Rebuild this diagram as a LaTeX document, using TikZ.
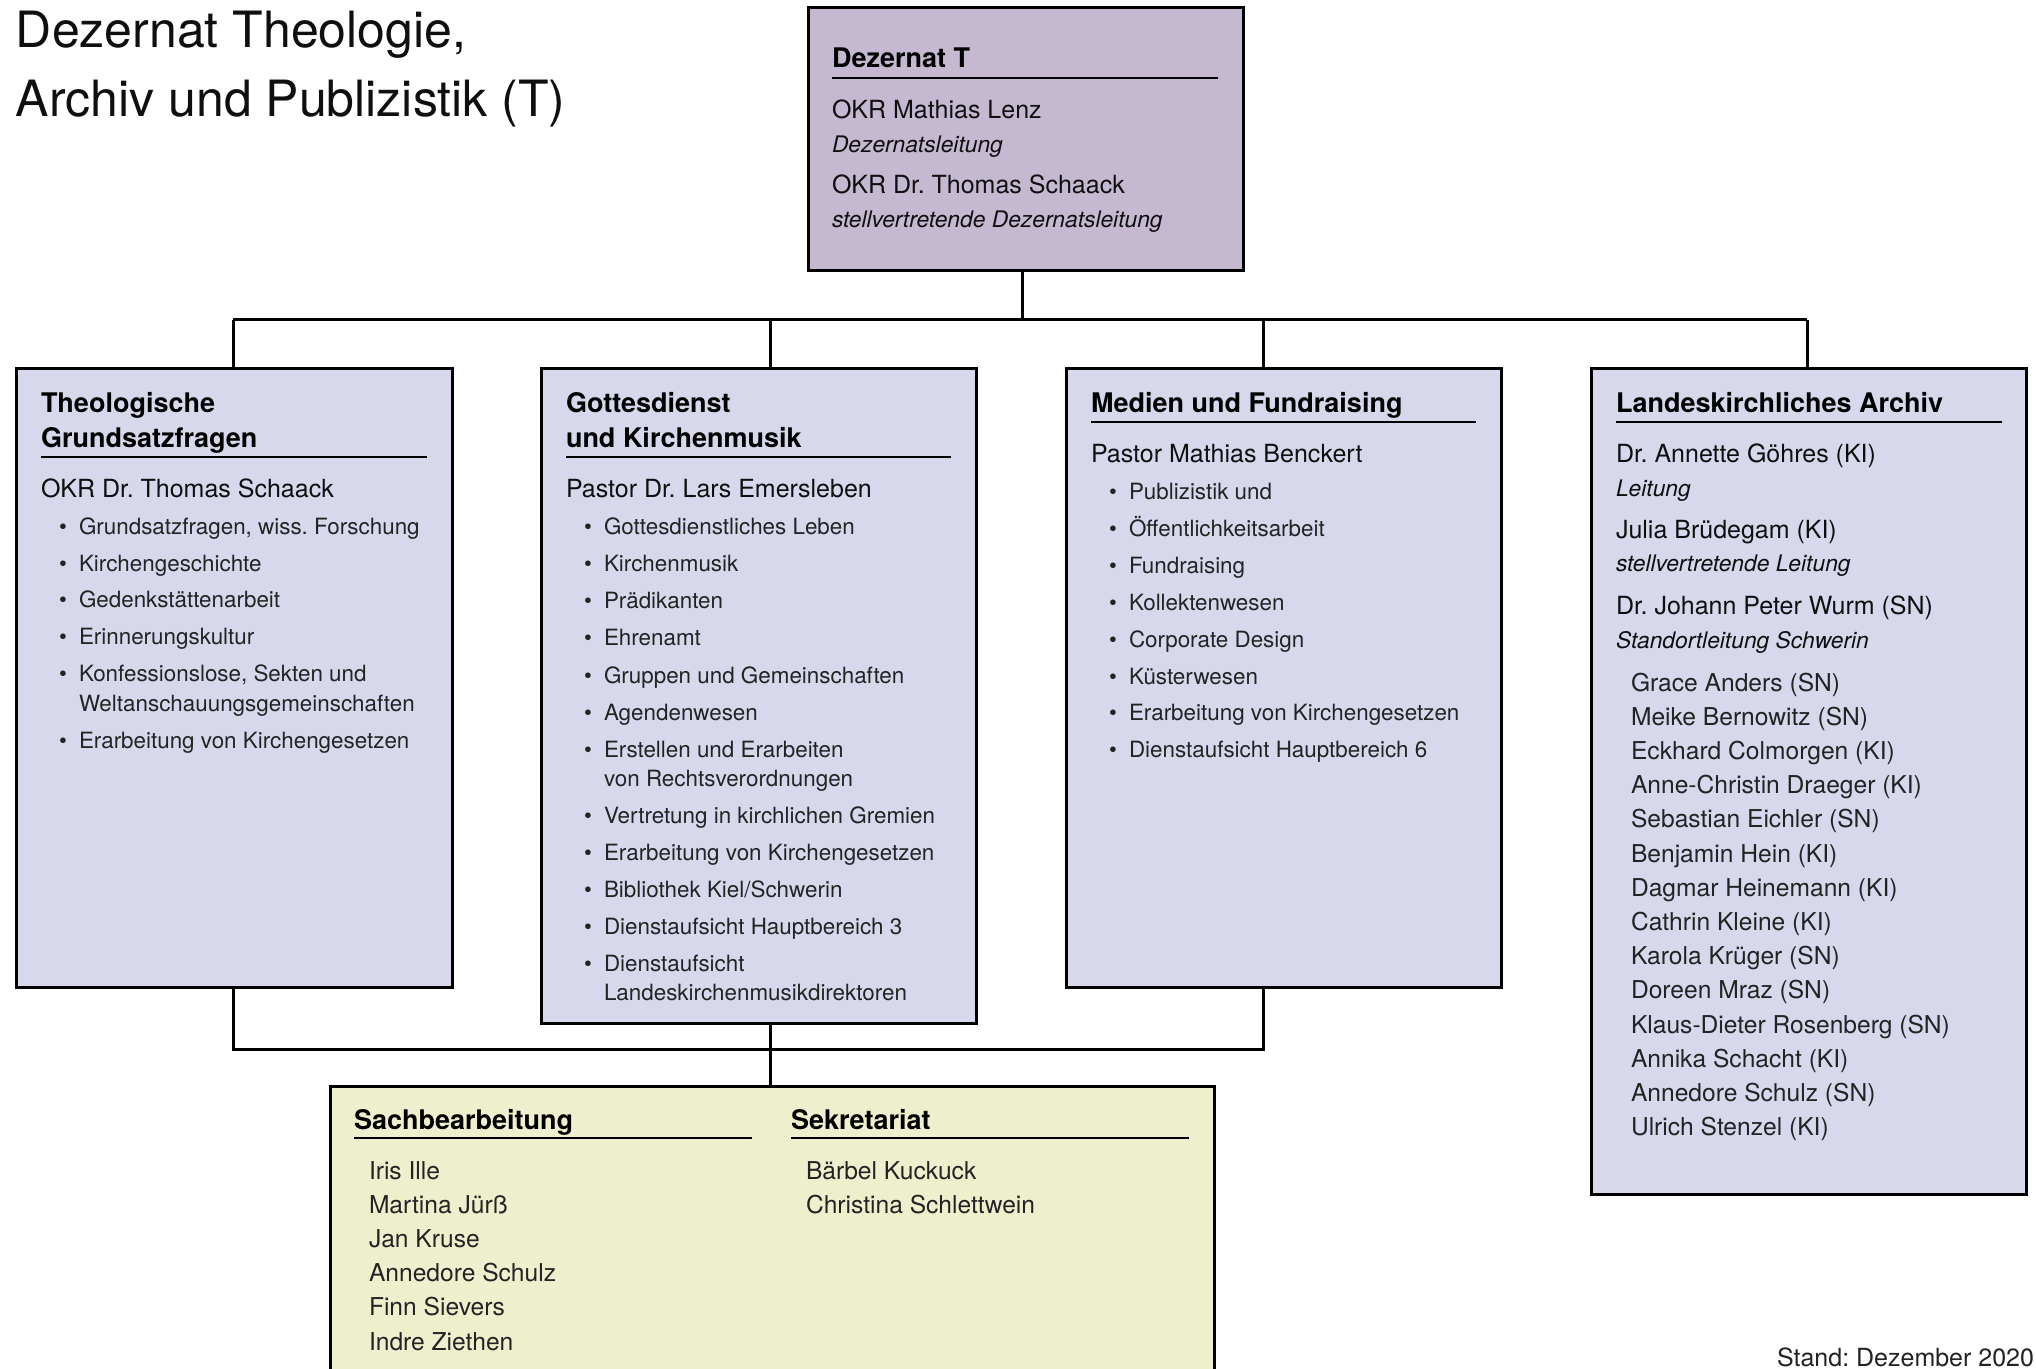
\documentclass[tikz,border=0pt]{standalone}
\usepackage{fontspec}
\setmainfont{TeX Gyre Heros}
\definecolor{boxT}{RGB}{197,185,210}
\definecolor{boxL}{RGB}{215,216,236}
\definecolor{boxY}{RGB}{238,240,205}
\definecolor{ink}{RGB}{15,15,15}
\definecolor{lite}{RGB}{35,35,35}
\tikzset{
 box/.style={draw=black, line width=1.5pt, inner sep=0pt, outer sep=0pt, anchor=north west},
 t/.style={anchor=base west, inner sep=0pt, outer sep=0pt, text=ink},
 head/.style={t, font=\fontsize{13.5}{16}\selectfont\bfseries, text=black},
 nm/.style={t, font=\fontsize{12.5}{15}\selectfont},
 role/.style={t, font=\fontsize{11.4}{14}\selectfont\itshape},
 itm/.style={t, font=\fontsize{11.2}{14}\selectfont, text=lite},
 lst/.style={t, font=\fontsize{12.3}{14}\selectfont, text=lite},
 rulefine/.style={line width=1pt},
 conn/.style={line width=1.5pt},
}
\begin{document}
\frenchspacing
\begin{tikzpicture}[x=0.5pt,y=-0.5pt]
\useasboundingbox (0,0) rectangle (2036,1369);
\clip (0,0) rectangle (2036,1369);
\fill[white] (0,0) rectangle (2036,1369);

% title
\node[t, font=\fontsize{25}{31}\selectfont] (title1) at (16,48) {Dezernat Theologie,};
\node[t, font=\fontsize{25}{31}\selectfont] (title2) at (16,117) {Archiv und Publizistik (T)};
\node[t, anchor=base east, font=\fontsize{12.5}{15}\selectfont, text=lite] (stand) at (2034,1366) {Stand: Dezember 2020};

% boxes
\node[box, fill=boxT, minimum width=217.5pt, minimum height=131.5pt] (top) at (808,8) {};
\node[box, fill=boxL, minimum width=218pt, minimum height=309pt] (b1) at (16,369) {};
\node[box, fill=boxL, minimum width=217.5pt, minimum height=327pt] (b2) at (541,369) {};
\node[box, fill=boxL, minimum width=217.5pt, minimum height=309pt] (b3) at (1066,369) {};
\node[box, fill=boxL, minimum width=217.5pt, minimum height=412.5pt] (b4) at (1591,369) {};
\node[box, fill=boxY, minimum width=442pt, minimum height=200pt] (sb) at (330,1086) {};

% connectors
\coordinate (jt) at (1022,320);
\coordinate (j1) at (233,320);
\coordinate (j2) at (770,320);
\coordinate (j3) at (1263,320);
\coordinate (j4) at (1807,320);
\coordinate (k1) at (233,1049);
\coordinate (k2) at (770,1049);
\coordinate (k3) at (1263,1049);
\draw[conn] (jt |- top.south) -- (jt);
\draw[conn] (j1) -- (j4);
\draw[conn] (j1) -- (j1 |- b1.north);
\draw[conn] (j2) -- (j2 |- b2.north);
\draw[conn] (j3) -- (j3 |- b3.north);
\draw[conn] (j4) -- (j4 |- b4.north);
\draw[conn] (k1 |- b1.south) -- (k1) -- (k3) -- (k3 |- b3.south);
\draw[conn] (k2 |- b2.south) -- (k2 |- sb.north);

% top box text
\node[head] (topH) at (832,68) {Dezernat T};
\draw[rulefine] (832,78) -- (1218,78);
\node[nm] (topN1) at (832,119) {OKR Mathias Lenz};
\node[role] (topR1) at (832,153) {Dezernatsleitung};
\node[nm] (topN2) at (832,194) {OKR Dr. Thomas Schaack};
\node[role] (topR2) at (832,228) {stellvertretende Dezernatsleitung};

% box 1
\node[head] (b1H1) at (41,413) {Theologische};
\node[head] (b1H2) at (41,448) {Grundsatzfragen};
\draw[rulefine] (41,457) -- (427,457);
\node[nm] (b1N) at (41,498) {OKR Dr. Thomas Schaack};
\foreach \y/\s [count=\i] in {535/{Grundsatzfragen, wiss. Forschung},572/Kirchengeschichte,608/Gedenkstättenarbeit,645/Erinnerungskultur,682/{Konfessionslose, Sekten und},748/Erarbeitung von Kirchengesetzen}{
  \node[itm] (b1d\i) at (59,\y) {\textbullet};
  \node[itm] (b1i\i) at (79,\y) {\s};
}
\node[itm] (b1c1) at (79,711) {Weltanschauungsgemeinschaften};

% box 2
\node[head] (b2H1) at (566,413) {Gottesdienst};
\node[head] (b2H2) at (566,448) {und Kirchenmusik};
\draw[rulefine] (566,457) -- (951,457);
\node[nm] (b2N) at (566,498) {Pastor Dr. Lars Emersleben};
\foreach \y/\s [count=\i] in {535/Gottesdienstliches Leben,572/Kirchenmusik,609/Prädikanten,646/Ehrenamt,683/Gruppen und Gemeinschaften,720/Agendenwesen,757/Erstellen und Erarbeiten,823/Vertretung in kirchlichen Gremien,860/Erarbeitung von Kirchengesetzen,897/{Bibliothek Kiel/Schwerin},934/Dienstaufsicht Hauptbereich 3,971/Dienstaufsicht}{
  \node[itm] (b2d\i) at (584,\y) {\textbullet};
  \node[itm] (b2i\i) at (604,\y) {\s};
}
\node[itm] (b2c1) at (604,786) {von Rechtsverordnungen};
\node[itm] (b2c2) at (604,1000) {Landeskirchenmusikdirektoren};

% box 3
\node[head] (b3H) at (1091,413) {Medien und Fundraising};
\draw[rulefine] (1091,422) -- (1476,422);
\node[nm] (b3N) at (1091,463) {Pastor Mathias Benckert};
\foreach \s [count=\i] in {Publizistik und,Öffentlichkeitsarbeit,Fundraising,Kollektenwesen,Corporate Design,Küsterwesen,Erarbeitung von Kirchengesetzen,Dienstaufsicht Hauptbereich 6}{
  \node[itm] (b3d\i) at (1109,{500+36.8*(\i-1)}) {\textbullet};
  \node[itm] (b3i\i) at (1129,{500+36.8*(\i-1)}) {\s};
}

% box 4
\node[head] (b4H) at (1616,413) {Landeskirchliches Archiv};
\draw[rulefine] (1616,422) -- (2002,422);
\node[nm] (b4N1) at (1616,463) {Dr. Annette Göhres (KI)};
\node[role] (b4R1) at (1616,497) {Leitung};
\node[nm] (b4N2) at (1616,539) {Julia Brüdegam (KI)};
\node[role] (b4R2) at (1616,572) {stellvertretende Leitung};
\node[nm] (b4N3) at (1616,615) {Dr. Johann Peter Wurm (SN)};
\node[role] (b4R3) at (1616,648) {Standortleitung Schwerin};
\foreach \s [count=\i] in {Grace Anders (SN),Meike Bernowitz (SN),Eckhard Colmorgen (KI),Anne-Christin Draeger (KI),Sebastian Eichler (SN),Benjamin Hein (KI),Dagmar Heinemann (KI),Cathrin Kleine (KI),Karola Krüger (SN),Doreen Mraz (SN),Klaus-Dieter Rosenberg (SN),Annika Schacht (KI),Annedore Schulz (SN),Ulrich Stenzel (KI)}{
  \node[lst] (b4p\i) at (1631,{691+34.2*(\i-1)}) {\s};
}

% bottom box
\node[head] (sbH1) at (354,1129) {Sachbearbeitung};
\draw[rulefine] (354,1138) -- (752,1138);
\node[head] (sbH2) at (791,1129) {Sekretariat};
\draw[rulefine] (791,1138) -- (1189,1138);
\foreach \s [count=\i] in {Iris Ille,Martina Jürß,Jan Kruse,Annedore Schulz,Finn Sievers,Indre Ziethen}{
  \node[lst] (sbp\i) at (369,{1179+34.2*(\i-1)}) {\s};
}
\foreach \s [count=\i] in {Bärbel Kuckuck,Christina Schlettwein}{
  \node[lst] (sbq\i) at (806,{1179+34.2*(\i-1)}) {\s};
}
\end{tikzpicture}
\end{document}
